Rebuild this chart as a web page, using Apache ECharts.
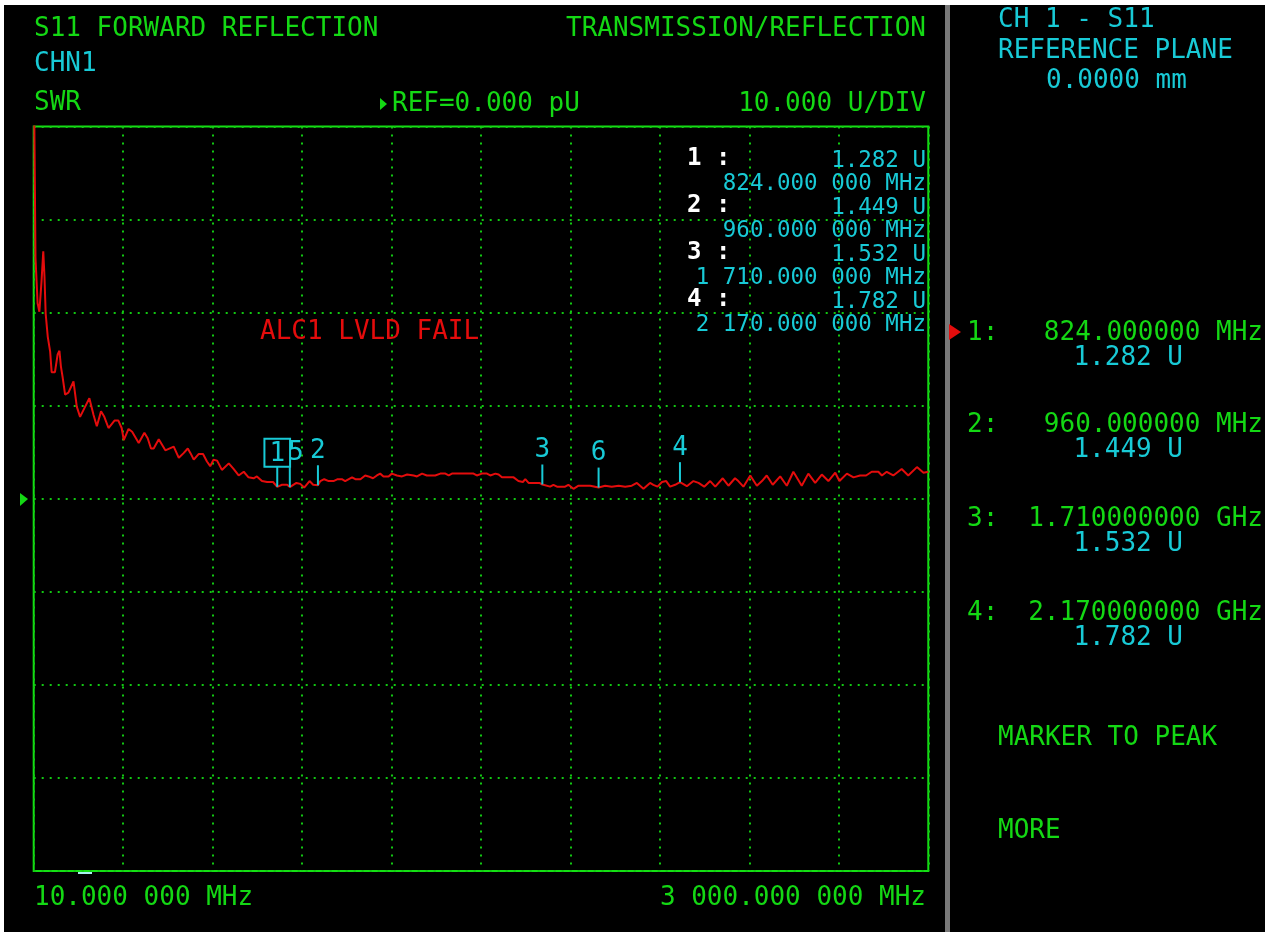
<!DOCTYPE html>
<html>
<head>
<meta charset="utf-8">
<title>S11 Forward Reflection</title>
<script src="https://cdn.jsdelivr.net/npm/echarts@6/dist/echarts.min.js"></script>
<style>
  html, body { margin: 0; padding: 0; background: #ffffff; }
  #screen { position: absolute; left: 4px; top: 5px; width: 1261px; height: 927px; background: #000000; }
  #chart { position: absolute; left: 0; top: 0; width: 1268px; height: 934px; }
</style>
</head>
<body>
<div id="screen"></div>
<div id="chart"></div>
<script>
// Sweep settings
const startMHz = 10;
const stopMHz = 3000;
const refLevel = 0;      // U at the reference line
const unitsPerDiv = 10;  // U per vertical division

// Measured SWR trace: frequency (MHz) and SWR (U)
const freqMHz = [
  10, 16, 23, 29, 36, 42, 46, 50, 57, 65, 70, 81, 90, 96, 101, 107, 115, 126, 143, 154,
  165, 182, 196, 210, 221, 235, 246, 260, 280, 293, 304, 311, 327, 339, 361, 380, 391, 402, 411, 428,
  439, 450, 478, 495, 511, 525, 534, 545, 561, 576, 589, 600, 611, 623, 639, 662, 678, 695, 712, 728,
  745, 756, 773, 790, 810, 824, 840, 857, 866, 888, 901, 914, 932, 944, 960, 968, 981, 996, 1012, 1026,
  1040, 1051, 1074, 1085, 1102, 1118, 1129, 1144, 1157, 1168, 1179, 1196, 1207, 1224, 1241, 1258, 1280, 1291, 1308, 1324,
  1352, 1369, 1386, 1397, 1408, 1480, 1491, 1508, 1525, 1536, 1553, 1564, 1575, 1614, 1630, 1645, 1653, 1664, 1700, 1710,
  1736, 1747, 1759, 1786, 1797, 1814, 1831, 1848, 1870, 1898, 1920, 1942, 1965, 1987, 2009, 2026, 2048, 2070, 2081, 2095,
  2110, 2124, 2137, 2154, 2170, 2193, 2215, 2232, 2251, 2271, 2288, 2313, 2332, 2354, 2365, 2382, 2405, 2427, 2444, 2460,
  2480, 2505, 2527, 2549, 2577, 2599, 2622, 2644, 2666, 2689, 2703, 2728, 2750, 2772, 2792, 2811, 2833, 2845, 2861, 2883,
  2911, 2933, 2962, 2984, 3000
];
const swr = [
  48, 25.9, 21.0, 20.1, 23.3, 26.6, 23.9, 19.9, 17.4, 15.8, 13.6, 13.6, 15.5, 15.9, 14.2, 13.0, 11.2, 11.4, 12.6, 9.9,
  8.8, 9.9, 10.8, 9.0, 7.8, 9.4, 8.8, 7.6, 8.4, 8.4, 7.6, 6.3, 7.5, 7.2, 6.0, 7.1, 6.5, 5.4, 5.4, 6.4,
  5.8, 5.2, 5.6, 4.4, 4.9, 5.4, 4.9, 4.2, 4.8, 4.8, 4.0, 3.5, 4.2, 4.1, 3.1, 3.8, 3.2, 2.5, 2.9, 2.3,
  2.2, 2.4, 1.9, 1.8, 1.8, 1.282, 1.5, 1.5, 1.25, 1.7, 1.6, 1.2, 1.9, 1.5, 1.449, 1.9, 2.1, 1.9, 1.9, 2.1,
  2.1, 1.9, 2.3, 2.1, 2.1, 2.5, 2.4, 2.2, 2.5, 2.7, 2.4, 2.4, 2.7, 2.5, 2.4, 2.6, 2.5, 2.4, 2.7, 2.5,
  2.5, 2.7, 2.7, 2.5, 2.7, 2.7, 2.5, 2.7, 2.7, 2.5, 2.7, 2.6, 2.3, 2.3, 1.9, 1.8, 2.1, 1.7, 1.7, 1.532,
  1.3, 1.5, 1.3, 1.3, 1.5, 1.07, 1.4, 1.4, 1.4, 1.2, 1.4, 1.3, 1.4, 1.3, 1.4, 1.7, 1.07, 1.7, 1.5, 1.3,
  1.8, 1.9, 1.3, 1.5, 1.782, 1.35, 1.9, 1.7, 1.3, 1.9, 1.3, 2.2, 1.4, 2.2, 1.9, 1.3, 2.5, 1.4, 1.9, 2.5,
  1.5, 2.4, 1.4, 2.9, 1.4, 2.7, 1.7, 2.6, 1.9, 2.8, 1.9, 2.7, 2.3, 2.5, 2.5, 2.9, 2.9, 2.5, 2.9, 2.5,
  3.2, 2.5, 3.4, 2.8, 2.9
];

// Markers placed on the trace (1-4 have readouts, 5 and 6 are shown on the trace only)
const markerNames = ['1', '2', '3', '4', '5', '6'];
const markerFreqMHz = [824, 960, 1710, 2170, 866, 1898];
const markerSwr = [1.282, 1.449, 1.532, 1.782, 1.25, 1.2];
const activeMarker = '1';
const readoutCount = 4;

// Screen colours
const GREEN = '#14d814';
const FRAME = '#14e014';
const DOTS = '#12c812';
const CYAN = '#18cad6';
const RED = '#e40c0c';
const WHITE = '#ffffff';
const MONO = '"DejaVu Sans Mono", "Liberation Mono", monospace';

// "1 710.000 000 MHz" style used in the on-grid list and the start/stop line
function fmtListFreq(mhz) {
  const parts = mhz.toFixed(6).split('.');
  const intPart = parts[0].replace(/\B(?=(\d{3})+(?!\d))/g, ' ');
  return intPart + '.' + parts[1].slice(0, 3) + ' ' + parts[1].slice(3) + ' MHz';
}
// "824.000000 MHz" / "1.710000000 GHz" style used in the side panel
function fmtPanelFreq(mhz) {
  return mhz >= 1000 ? (mhz / 1000).toFixed(9) + ' GHz' : mhz.toFixed(6) + ' MHz';
}
function fmtSwr(v) { return v.toFixed(3) + ' U'; }

function txt(x, y, s, fill, size, align, bold) {
  return {
    type: 'text', x: x, y: y + 1, silent: true, z: 10,
    style: {
      text: s, fill: fill,
      font: (bold ? 'bold ' : '') + size + 'px ' + MONO,
      align: align || 'left', verticalAlign: 'middle',
      textAlign: align || 'left', textVerticalAlign: 'middle'
    }
  };
}

const graphics = [];
// panel separator
graphics.push({ type: 'rect', silent: true, shape: { x: 945, y: 5, width: 5, height: 927 }, style: { fill: '#787878' } });

// header
graphics.push(txt(34, 28, 'S11 FORWARD REFLECTION', GREEN, 26));
graphics.push(txt(926, 28, 'TRANSMISSION/REFLECTION', GREEN, 26, 'right'));
graphics.push(txt(34, 63, 'CHN1', CYAN, 26));
graphics.push(txt(34, 102, 'SWR', GREEN, 26));
graphics.push({ type: 'polygon', silent: true, shape: { points: [[380, 98], [387, 104], [380, 110]] }, style: { fill: GREEN } });
graphics.push(txt(392, 103, 'REF=' + refLevel.toFixed(3) + ' pU', GREEN, 26));
graphics.push(txt(926, 103, unitsPerDiv.toFixed(3) + ' U/DIV', GREEN, 26, 'right'));

// reference line pointer and sweep start cursor
graphics.push({ type: 'polygon', silent: true, shape: { points: [[20, 493], [28, 499], [20, 506]] }, style: { fill: GREEN } });
graphics.push({ type: 'rect', silent: true, shape: { x: 78, y: 872, width: 14, height: 2 }, style: { fill: '#a8f0f0' } });

// start / stop frequencies
graphics.push(txt(34, 897, fmtListFreq(startMHz), GREEN, 26));
graphics.push(txt(926, 897, fmtListFreq(stopMHz), GREEN, 26, 'right'));

// status message
graphics.push(txt(260, 331, 'ALC1 LVLD FAIL', RED, 26));

// marker readout list on the grid
const listLabelY = [158, 205, 252, 299];
for (let i = 0; i < readoutCount; i++) {
  const y = listLabelY[i];
  graphics.push(txt(687, y, markerNames[i] + ' :', WHITE, 24, 'left', true));
  graphics.push(txt(926, y + 2, fmtSwr(markerSwr[i]), CYAN, 22.5, 'right'));
  graphics.push(txt(926, y + 25, fmtListFreq(markerFreqMHz[i]), CYAN, 22.5, 'right'));
}

// side panel
graphics.push(txt(998, 19, 'CH 1 - S11', CYAN, 26));
graphics.push(txt(998, 50, 'REFERENCE PLANE', CYAN, 26));
graphics.push(txt(1046, 80, '0.0000 mm', CYAN, 26));
const panelY = [332, 424, 518, 612];
for (let i = 0; i < readoutCount; i++) {
  const y = panelY[i];
  graphics.push(txt(967, y, markerNames[i] + ':', GREEN, 26));
  graphics.push(txt(1263, y, fmtPanelFreq(markerFreqMHz[i]), GREEN, 26, 'right'));
  graphics.push(txt(1183, y + 25, fmtSwr(markerSwr[i]), CYAN, 26, 'right'));
  if (markerNames[i] === activeMarker) {
    graphics.push({ type: 'polygon', silent: true, shape: { points: [[949, y - 8], [961, y], [949, y + 8]] }, style: { fill: RED } });
  }
}
graphics.push(txt(998, 737, 'MARKER TO PEAK', GREEN, 26));
graphics.push(txt(998, 830, 'MORE', GREEN, 26));

const traceData = freqMHz.map((f, i) => [f, swr[i]]);
const markerData = markerNames.map((n, i) => {
  const item = { name: n, value: [markerFreqMHz[i], markerSwr[i]] };
  if (n === activeMarker) {
    // the active marker number is boxed
    item.label = { borderColor: CYAN, borderWidth: 2, padding: [3, 5, 1, 5], distance: 0 };
  } else if (n === '5') {
    // nudged right so it clears the boxed active marker
    item.label = { offset: [6, 0] };
  }
  return item;
});

const dotted = { show: true, lineStyle: { color: DOTS, width: 2, type: [2, 6] } };

const chart = echarts.init(document.getElementById('chart'), null, { renderer: 'canvas' });
chart.setOption({
  animation: false,
  backgroundColor: 'transparent',
  grid: {
    left: 33.7, top: 126.5, width: 894.6, height: 744.5,
    show: true, borderColor: FRAME, borderWidth: 2, backgroundColor: 'transparent'
  },
  xAxis: [
    {
      type: 'value', min: startMHz, max: stopMHz,
      axisLine: { show: false }, axisTick: { show: false }, axisLabel: { show: false }, splitLine: { show: false }
    },
    {
      // ten horizontal divisions across the sweep
      type: 'value', min: 0, max: 10, interval: 1,
      axisLine: { show: false }, axisTick: { show: false }, axisLabel: { show: false }, splitLine: dotted
    }
  ],
  yAxis: {
    type: 'value', min: refLevel - 4 * unitsPerDiv, max: refLevel + 4 * unitsPerDiv, interval: unitsPerDiv,
    axisLine: { show: false }, axisTick: { show: false }, axisLabel: { show: false }, splitLine: dotted
  },
  series: [
    {
      type: 'line', xAxisIndex: 0, data: traceData, showSymbol: false, clip: true,
      lineStyle: { color: RED, width: 2 }, z: 3
    },
    {
      type: 'scatter', xAxisIndex: 0, data: markerData, z: 4,
      symbol: 'rect', symbolSize: [2, 20], symbolOffset: [0, -10],
      itemStyle: { color: CYAN, opacity: 1 },
      emphasis: { disabled: true },
      label: {
        show: true, position: 'top', distance: 2, formatter: '{b}',
        color: CYAN, opacity: 1, fontSize: 26, fontFamily: MONO, lineHeight: 24
      }
    }
  ],
  graphic: graphics
});
</script>
</body>
</html>
